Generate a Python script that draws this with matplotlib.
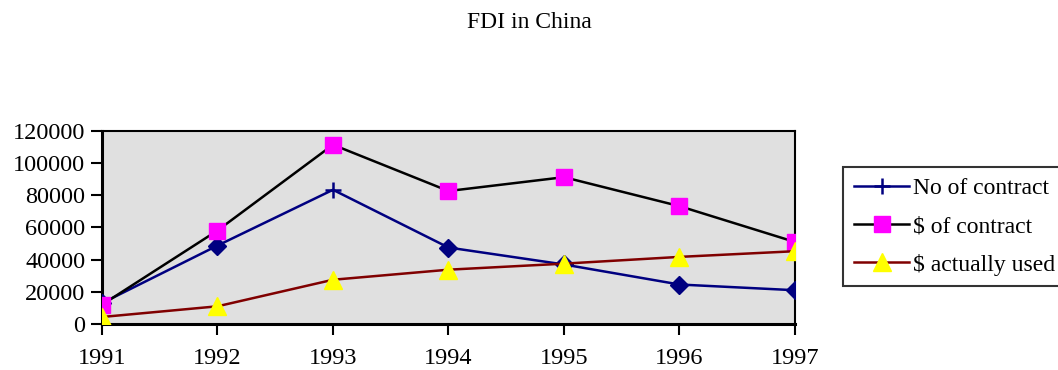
import matplotlib.pyplot as plt

plt.rcParams['font.family'] = ['Liberation Serif', 'DejaVu Serif']

years = [1991, 1992, 1993, 1994, 1995, 1996, 1997]
no_of_contract = [12978, 48764, 83437, 47549, 37011, 24556, 21001]
usd_of_contract = [11977, 58124, 111436, 82680, 91282, 73276, 51004]
usd_actually_used = [4366, 11007, 27515, 33767, 37521, 41726, 45257]
yticks = [0, 20000, 40000, 60000, 80000, 100000, 120000]

fig = plt.figure(figsize=(10.58, 3.70), dpi=100)
ax = fig.add_axes([0.0964, 0.1243, 0.655, 0.5217])
ax.set_facecolor('#e0e0e0')

# contracts: diamonds everywhere except the 1993 point, which is a plus
ax.plot(years, no_of_contract, color='#000080', lw=1.8, marker='+', ms=12,
        mew=1.8, markevery=[2], label='No of contract', zorder=3)
dia = [i for i in range(len(years)) if i != 2]
ax.plot([years[i] for i in dia], [no_of_contract[i] for i in dia], ls='none',
        marker='D', ms=9, color='#000080', zorder=3)
ax.plot(years, usd_of_contract, color='black', lw=1.8, marker='s', ms=12,
        mfc='#ff00ff', mec='#ff00ff', label=r'\$ of contract', zorder=4)
ax.plot(years, usd_actually_used, color='#800000', lw=1.8, marker='^', ms=13,
        mfc='#ffff00', mec='#ffff00', label=r'\$ actually used', zorder=5)

ax.set_xlim(1991, 1997)
ax.set_ylim(0, 120000)
ax.set_xticks(years)
ax.set_yticks(yticks)
ax.set_yticklabels([str(v) for v in yticks])
ax.tick_params(axis='both', direction='out', length=8, width=1.5, labelsize=17.5)
ax.tick_params(axis='x', pad=9)
ax.tick_params(axis='y', pad=4)
for s in ax.spines.values():
    s.set_linewidth(1.5)
ax.spines['bottom'].set_linewidth(2.2)
ax.spines['left'].set_linewidth(2.2)

fig.text(0.5, 0.94, 'FDI in China', ha='center', va='center', fontsize=17)

leg = fig.legend(loc='upper left', bbox_to_anchor=(0.797, 0.549), fontsize=17,
                 frameon=True, fancybox=False, shadow=False, borderpad=0.45,
                 labelspacing=0.7, handlelength=2.35, handletextpad=0.15,
                 borderaxespad=0)
leg.get_frame().set_edgecolor('black')
leg.get_frame().set_linewidth(1.5)

fig.savefig('out.png', dpi=100)
